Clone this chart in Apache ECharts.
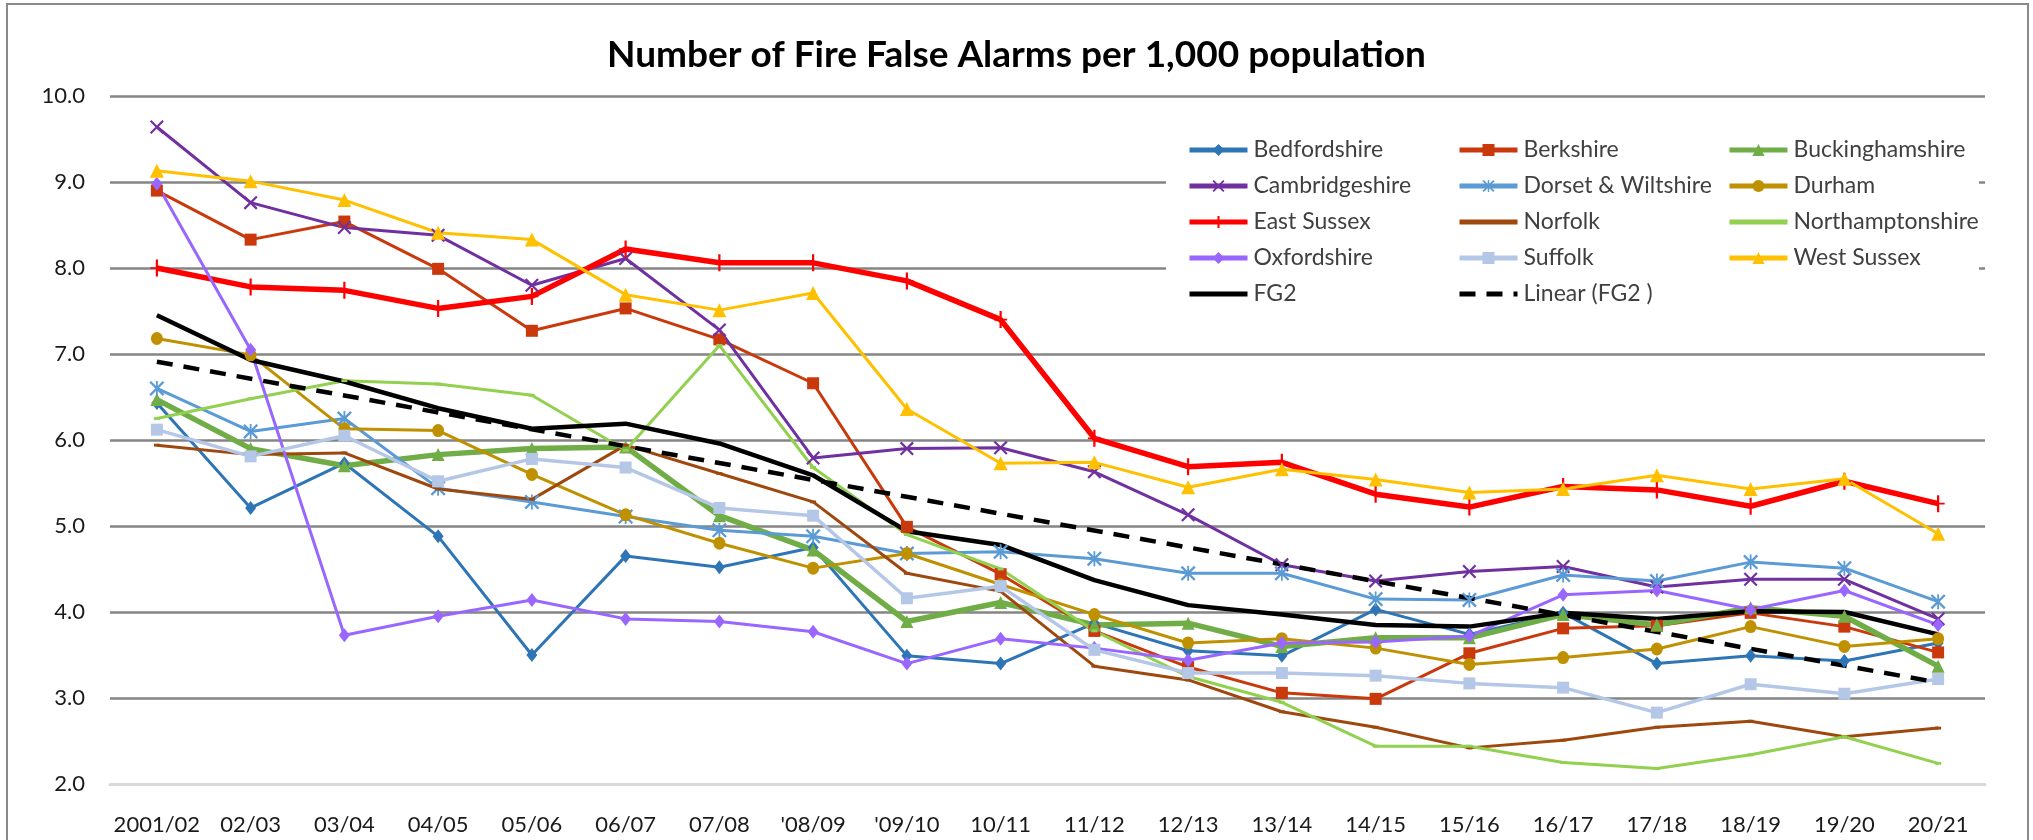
<!DOCTYPE html>
<html>
<head>
<meta charset="utf-8">
<script src="https://cdn.jsdelivr.net/npm/echarts@6/dist/echarts.min.js"></script>
<style>
  html, body { margin: 0; padding: 0; background: #fff; }
  #chart { width: 2033px; height: 840px; }
</style>
</head>
<body>
<div id="chart"></div>
<script>
var years = ['2001/02', '02/03', '03/04', '04/05', '05/06', '06/07', '07/08', "'08/09", "'09/10", '10/11',
    '11/12', '12/13', '13/14', '14/15', '15/16', '16/17', '17/18', '18/19', '19/20', '20/21'];
var yTicks = [2, 10, 1]; // min, max, step

var bedfordshire = [6.43, 5.21, 5.73, 4.88, 3.50, 4.65, 4.52, 4.75, 3.49, 3.40, 3.87, 3.55, 3.49, 4.03, 3.74, 3.99, 3.40, 3.49, 3.43, 3.64];
var berkshire = [8.90, 8.33, 8.54, 7.99, 7.27, 7.53, 7.17, 6.66, 4.99, 4.44, 3.78, 3.36, 3.06, 2.99, 3.52, 3.81, 3.84, 3.99, 3.83, 3.53];
var buckinghamshire = [6.47, 5.90, 5.70, 5.83, 5.90, 5.92, 5.12, 4.72, 3.89, 4.11, 3.85, 3.87, 3.60, 3.70, 3.70, 3.97, 3.85, 4.05, 3.95, 3.37];
var cambridgeshire = [9.64, 8.76, 8.47, 8.38, 7.80, 8.11, 7.28, 5.79, 5.90, 5.91, 5.63, 5.13, 4.55, 4.36, 4.47, 4.53, 4.29, 4.38, 4.38, 3.92];
var dorsetWiltshire = [6.60, 6.10, 6.25, 5.44, 5.28, 5.11, 4.95, 4.88, 4.68, 4.70, 4.62, 4.45, 4.45, 4.15, 4.14, 4.43, 4.36, 4.58, 4.51, 4.12];
var durham = [7.18, 6.99, 6.13, 6.11, 5.60, 5.13, 4.80, 4.51, 4.68, 4.32, 3.97, 3.64, 3.69, 3.58, 3.39, 3.47, 3.57, 3.83, 3.60, 3.69];
var eastSussex = [8.00, 7.78, 7.74, 7.53, 7.67, 8.22, 8.06, 8.06, 7.85, 7.40, 6.02, 5.69, 5.74, 5.37, 5.22, 5.46, 5.42, 5.23, 5.52, 5.26];
var norfolk = [5.94, 5.83, 5.85, 5.43, 5.31, 5.94, 5.61, 5.28, 4.45, 4.24, 3.37, 3.21, 2.84, 2.66, 2.42, 2.51, 2.66, 2.73, 2.55, 2.65];
var northamptonshire = [6.25, 6.48, 6.69, 6.65, 6.52, 5.88, 7.10, 5.68, 4.90, 4.50, 3.78, 3.25, 2.95, 2.44, 2.44, 2.25, 2.18, 2.34, 2.55, 2.24];
var oxfordshire = [8.98, 7.05, 3.73, 3.95, 4.14, 3.92, 3.89, 3.77, 3.40, 3.69, 3.58, 3.44, 3.64, 3.65, 3.72, 4.20, 4.25, 4.03, 4.25, 3.85];
var suffolk = [6.12, 5.81, 6.05, 5.52, 5.78, 5.68, 5.21, 5.12, 4.16, 4.30, 3.56, 3.29, 3.29, 3.26, 3.17, 3.12, 2.83, 3.16, 3.05, 3.22];
var westSussex = [9.13, 9.01, 8.79, 8.41, 8.33, 7.69, 7.51, 7.71, 6.36, 5.73, 5.74, 5.45, 5.66, 5.54, 5.39, 5.43, 5.59, 5.43, 5.55, 4.91];
var fg2 = [7.45, 6.93, 6.68, 6.37, 6.13, 6.19, 5.96, 5.59, 4.94, 4.78, 4.37, 4.08, 3.97, 3.85, 3.83, 3.99, 3.92, 4.01, 4.00, 3.74];
// trendline end points
var fg2TrendEnds = [6.91, 3.18];

var FONT = 'Lato, "Open Sans", sans-serif';

var X_MARK = 'path://M0,1.1L1.1,0L10,8.9L8.9,10Z M8.9,0L10,1.1L1.1,10L0,8.9Z';
var STAR_MARK = 'path://M0,1.1L1.1,0L10,8.9L8.9,10Z M8.9,0L10,1.1L1.1,10L0,8.9Z M4.4,0H5.6V10H4.4Z';
var PLUS_MARK = 'path://M4.4,0H5.6V10H4.4Z M1.5,4.5H8.5V5.5H1.5Z';
// small dash inside an empty 10x10 box
var DASH_MARK = 'path://M0,0L0,0M2.5,3.8H7.5V6.2H2.5ZM10,10L10,10';

function county(name, data, color, symbol, size, width) {
    return {
        name: name,
        type: 'line',
        data: data,
        symbol: symbol,
        symbolSize: size,
        showSymbol: symbol !== 'none',
        lineStyle: { color: color, width: width },
        itemStyle: { color: color },
        emphasis: { disabled: true },
        animation: false
    };
}

var chart = echarts.init(document.getElementById('chart'));

var series = [
    county('Bedfordshire', bedfordshire, '#2E75B6', 'diamond', [11, 14], 3),
    county('Berkshire', berkshire, '#C9390C', 'rect', 12, 3),
    county('Buckinghamshire', buckinghamshire, '#70AD47', 'triangle', 13, 5.5),
    county('Cambridgeshire', cambridgeshire, '#7030A0', X_MARK, 14, 3),
    county('Dorset & Wiltshire', dorsetWiltshire, '#5B9BD5', STAR_MARK, 15, 3),
    county('Durham', durham, '#BF9000', 'circle', [12, 13], 3),
    county('East Sussex', eastSussex, '#FF0000', PLUS_MARK, [13, 17], 5.5),
    county('Norfolk', norfolk, '#9E480E', DASH_MARK, 12, 3),
    county('Northamptonshire', northamptonshire, '#92D050', DASH_MARK, 12, 3),
    county('Oxfordshire', oxfordshire, '#9966FF', 'diamond', [11, 14], 3),
    county('Suffolk', suffolk, '#B4C7E7', 'rect', 12, 3.5),
    county('West Sussex', westSussex, '#FFC000', 'triangle', 14, 3),
    county('FG2', fg2, '#000000', 'none', 0, 4.5),
    {
        name: 'Linear (FG2 )',
        type: 'line',
        data: [[years[0], fg2TrendEnds[0]], [years[years.length - 1], fg2TrendEnds[1]]],
        symbol: 'none',
        lineStyle: { color: '#000000', width: 4.5, type: [16, 11] },
        itemStyle: { color: '#000000' },
        emphasis: { disabled: true },
        animation: false
    }
];

function legendCol(names, left) {
    return {
        data: names.map(function (n) {
            return (n === 'FG2' || n === 'Linear (FG2 )') ? { name: n, itemStyle: { opacity: 0 } } : n;
        }),
        orient: 'vertical',
        left: left,
        top: 132,
        itemWidth: 58,
        itemHeight: 15,
        itemGap: 10,
        selectedMode: false,
        lineStyle: { width: 5 },
        textStyle: { fontFamily: FONT, fontSize: 23, color: '#404040', lineHeight: 26, padding: [0, 0, 0, 1] }
    };
}

var option = {
    backgroundColor: '#ffffff',
    animation: false,
    title: {
        text: 'Number of Fire False Alarms per 1,000 population',
        left: 'center',
        top: 32,
        textStyle: { fontFamily: FONT, fontSize: 37, fontWeight: 'bold', color: '#000' }
    },
    legend: [
        legendCol(['Bedfordshire', 'Cambridgeshire', 'East Sussex', 'Oxfordshire', 'FG2'], 1182),
        legendCol(['Berkshire', 'Dorset & Wiltshire', 'Norfolk', 'Suffolk', 'Linear (FG2 )'], 1452),
        legendCol(['Buckinghamshire', 'Durham', 'Northamptonshire', 'West Sussex'], 1722)
    ],
    grid: { left: 110, right: 48, top: 96, bottom: 56, containLabel: false },
    xAxis: {
        type: 'category',
        data: years,
        boundaryGap: true,
        axisLine: { lineStyle: { color: '#D9D9D9', width: 3 } },
        axisTick: { show: false },
        axisLabel: { interval: 0, fontFamily: FONT, fontSize: 22, color: '#1a1a1a', margin: 30 }
    },
    yAxis: {
        type: 'value',
        min: yTicks[0],
        max: yTicks[1],
        interval: yTicks[2],
        axisLine: { show: false },
        axisTick: { show: false },
        axisLabel: {
            fontFamily: FONT, fontSize: 22, color: '#1a1a1a', margin: 25,
            formatter: function (v) { return v.toFixed(1); }
        },
        splitLine: { lineStyle: { color: '#858585', width: 2.5 } }
    },
    graphic: [
        {
            type: 'rect', z: 1,
            shape: { x: 1166, y: 120, width: 813, height: 190 },
            style: { fill: '#ffffff' }
        },
        {
            type: 'rect', z: 0,
            shape: { x: 7, y: 4, width: 2021, height: 860 },
            style: { fill: 'none', stroke: '#8a8a8a', lineWidth: 2 }
        }
    ],
    series: series
};

chart.setOption(option);
</script>
</body>
</html>
